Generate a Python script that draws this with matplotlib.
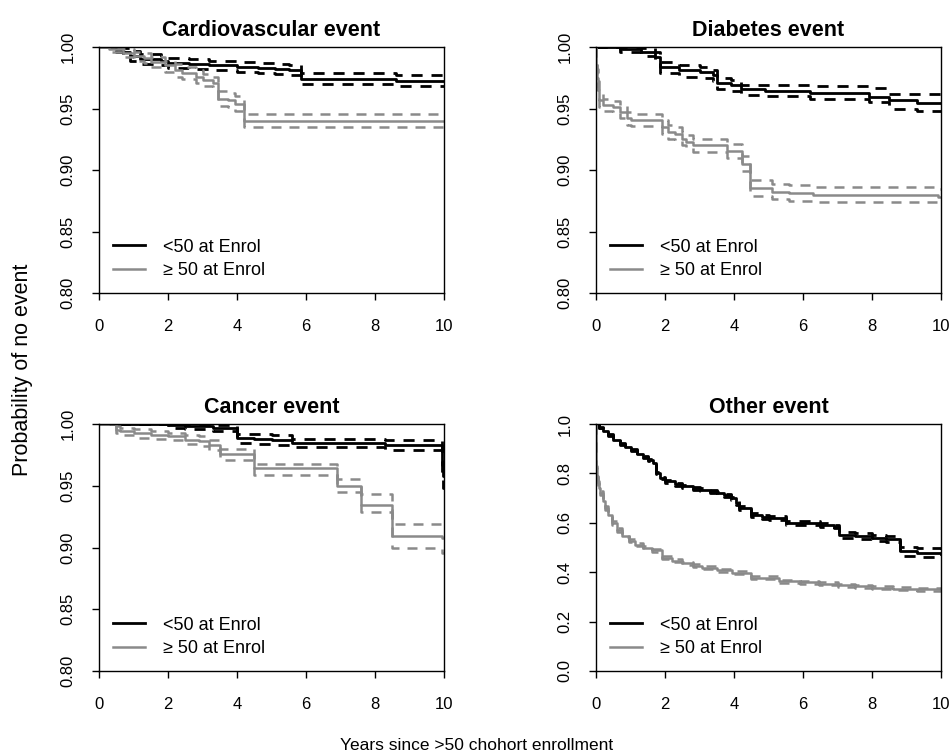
import numpy as np
import matplotlib
matplotlib.use("Agg")
from matplotlib import pyplot as plt

plt.rcParams['font.family'] = ['Liberation Sans', 'DejaVu Sans']

# ---- Cardiovascular event ----
cv_young_t = [0, 0.5, 0.7, 0.9, 1.2, 1.8, 2.0, 2.6, 3.2, 4.0, 4.6, 5.1, 5.5, 5.85, 8.6, 10]
cv_young_s = [1.0, 0.998, 0.996, 0.993, 0.990, 0.989, 0.987, 0.986, 0.985, 0.984, 0.983, 0.982, 0.981, 0.9737, 0.972, 0.972]
cv_young_hi = [1.0, 1.0, 0.999, 0.997, 0.994, 0.993, 0.991, 0.990, 0.989, 0.988, 0.987, 0.986, 0.985, 0.9786, 0.9775, 0.9775]
cv_young_lo = [1.0, 0.996, 0.993, 0.989, 0.986, 0.985, 0.983, 0.982, 0.981, 0.980, 0.979, 0.978, 0.977, 0.970, 0.9683, 0.9683]

cv_old_t = [0, 0.3, 0.7, 1.0, 1.3, 1.5, 1.9, 2.2, 2.4, 2.8, 3.0, 3.3, 3.45, 3.75, 3.95, 4.2, 10]
cv_old_s = [1.0, 0.998, 0.995, 0.993, 0.991, 0.988, 0.985, 0.981, 0.979, 0.976, 0.973, 0.971, 0.958, 0.957, 0.954, 0.940, 0.940]
cv_old_hi = [1.0, 1.0, 0.998, 0.996, 0.995, 0.992, 0.989, 0.986, 0.984, 0.981, 0.978, 0.976, 0.964, 0.963, 0.960, 0.9455, 0.9455]
cv_old_lo = [1.0, 0.996, 0.992, 0.989, 0.987, 0.984, 0.980, 0.976, 0.974, 0.971, 0.968, 0.966, 0.952, 0.951, 0.948, 0.9347, 0.9347]

# ---- Diabetes event ----
db_young_t = [0, 0.7, 1.3, 1.7, 1.85, 2.4, 3.0, 3.4, 3.5, 3.9, 4.2, 4.9, 6.2, 7.9, 8.5, 9.3, 10]
db_young_s = [1.0, 0.998, 0.996, 0.992, 0.984, 0.981, 0.980, 0.977, 0.9705, 0.969, 0.9655, 0.9645, 0.9625, 0.9595, 0.957, 0.9548, 0.9548]
db_young_hi = [1.0, 1.0, 0.999, 0.996, 0.988, 0.985, 0.984, 0.981, 0.975, 0.9735, 0.969, 0.969, 0.968, 0.967, 0.962, 0.9615, 0.9615]
db_young_lo = [1.0, 0.996, 0.993, 0.988, 0.979, 0.976, 0.975, 0.972, 0.966, 0.964, 0.961, 0.960, 0.958, 0.9555, 0.950, 0.948, 0.948]

db_old_t = [0, 0.01, 0.03, 0.06, 0.1, 0.2, 0.5, 0.7, 0.9, 1.0, 1.9, 2.1, 2.3, 2.5, 2.6, 2.8, 3.8, 4.22, 4.46, 5.1, 5.6, 6.3, 9.9, 10]
db_old_s = [1.0, 0.985, 0.975, 0.965, 0.957, 0.953, 0.9515, 0.9475, 0.942, 0.9405, 0.935, 0.931, 0.9295, 0.9255, 0.923, 0.920, 0.9155, 0.905, 0.885, 0.8825, 0.881, 0.880, 0.878, 0.878]
db_old_hi = [1.0, 0.990, 0.982, 0.972, 0.963, 0.958, 0.956, 0.9525, 0.9475, 0.9455, 0.9405, 0.9365, 0.935, 0.931, 0.9285, 0.9255, 0.921, 0.911, 0.8915, 0.889, 0.8875, 0.8865, 0.8845, 0.8845]
db_old_lo = [1.0, 0.980, 0.968, 0.958, 0.951, 0.948, 0.947, 0.9425, 0.9365, 0.9355, 0.9295, 0.9255, 0.924, 0.920, 0.9175, 0.9145, 0.910, 0.899, 0.879, 0.8765, 0.875, 0.874, 0.8715, 0.8715]

# ---- Cancer event ----
ca_young_t = [0, 2.0, 2.5, 3.3, 4.0, 4.5, 5.0, 5.6, 8.3, 9.95, 9.98, 10]
ca_young_s = [1.0, 0.999, 0.998, 0.997, 0.9887, 0.988, 0.9873, 0.9846, 0.9833, 0.967, 0.958, 0.958]
ca_young_hi = [1.0, 1.0, 1.0, 0.999, 0.992, 0.9915, 0.991, 0.988, 0.987, 0.975, 0.968, 0.968]
ca_young_lo = [1.0, 0.997, 0.996, 0.994, 0.985, 0.984, 0.983, 0.981, 0.979, 0.958, 0.948, 0.948]

ca_old_t = [0, 0.5, 0.6, 1.0, 1.5, 2.0, 2.5, 2.9, 3.2, 3.5, 4.5, 6.9, 7.6, 8.5, 9.95, 10]
ca_old_s = [1.0, 0.9955, 0.994, 0.9927, 0.991, 0.990, 0.9873, 0.986, 0.983, 0.9757, 0.9644, 0.9495, 0.9347, 0.909, 0.9077, 0.9077]
ca_old_hi = [1.0, 0.998, 0.997, 0.996, 0.994, 0.993, 0.991, 0.990, 0.987, 0.980, 0.9676, 0.9555, 0.943, 0.919, 0.917, 0.917]
ca_old_lo = [1.0, 0.993, 0.991, 0.989, 0.988, 0.987, 0.984, 0.982, 0.979, 0.971, 0.959, 0.945, 0.9285, 0.8996, 0.8955, 0.8955]

# ---- Other event ----
ot_young_t = [0, 0.1, 0.2, 0.35, 0.5, 0.7, 0.85, 1.0, 1.2, 1.35, 1.5, 1.65, 1.75, 1.85, 2.0, 2.3, 2.5, 2.8, 3.0, 3.3,
              3.5, 3.7, 3.9, 4.05, 4.15, 4.5, 4.8, 5.0, 5.5, 5.8, 6.5, 6.9, 7.05, 7.5, 8.0, 8.4, 8.8, 9.3, 10]
ot_young_s = [1.0, 0.985, 0.970, 0.955, 0.937, 0.920, 0.908, 0.896, 0.880, 0.868, 0.856, 0.842, 0.800, 0.781, 0.768, 0.757, 0.748, 0.740, 0.734, 0.727,
              0.720, 0.712, 0.700, 0.680, 0.660, 0.630, 0.625, 0.620, 0.600, 0.598, 0.593, 0.585, 0.550, 0.545, 0.540, 0.535, 0.485, 0.478, 0.474]
ot_young_hi = [1.0, 0.988, 0.974, 0.959, 0.941, 0.924, 0.912, 0.900, 0.884, 0.872, 0.860, 0.846, 0.804, 0.785, 0.773, 0.763, 0.754, 0.746, 0.740, 0.733,
               0.726, 0.718, 0.706, 0.688, 0.668, 0.638, 0.633, 0.628, 0.608, 0.606, 0.601, 0.593, 0.562, 0.557, 0.552, 0.547, 0.503, 0.496, 0.492]
ot_young_lo = [1.0, 0.982, 0.966, 0.951, 0.933, 0.916, 0.904, 0.892, 0.876, 0.864, 0.852, 0.838, 0.796, 0.777, 0.763, 0.751, 0.742, 0.734, 0.728, 0.721,
               0.714, 0.706, 0.694, 0.672, 0.652, 0.622, 0.617, 0.612, 0.592, 0.590, 0.585, 0.577, 0.538, 0.533, 0.528, 0.523, 0.467, 0.460, 0.456]

ot_old_t = [0, 0.01, 0.03, 0.06, 0.1, 0.13, 0.2, 0.27, 0.35, 0.46, 0.6, 0.75, 0.95, 1.14, 1.35, 1.62, 1.9, 2.2, 2.5, 2.8,
            3.07, 3.5, 3.94, 4.5, 5.3, 5.9, 6.45, 7.0, 7.5, 8.0, 8.6, 9.3, 10]
ot_old_s = [1.0, 0.82, 0.79, 0.76, 0.74, 0.72, 0.69, 0.66, 0.63, 0.60, 0.57, 0.548, 0.528, 0.512, 0.50, 0.488, 0.458, 0.447, 0.437, 0.427,
            0.418, 0.408, 0.398, 0.378, 0.364, 0.359, 0.354, 0.348, 0.343, 0.338, 0.334, 0.331, 0.331]
ot_old_hi = [1.0, 0.83, 0.80, 0.77, 0.749, 0.729, 0.698, 0.668, 0.638, 0.607, 0.577, 0.555, 0.535, 0.518, 0.506, 0.494, 0.464, 0.453, 0.443, 0.433,
             0.424, 0.414, 0.404, 0.384, 0.370, 0.365, 0.360, 0.354, 0.349, 0.344, 0.340, 0.337, 0.337]
ot_old_lo = [1.0, 0.81, 0.78, 0.75, 0.731, 0.711, 0.682, 0.652, 0.622, 0.593, 0.563, 0.541, 0.521, 0.506, 0.494, 0.482, 0.452, 0.441, 0.431, 0.421,
             0.412, 0.402, 0.392, 0.372, 0.358, 0.353, 0.348, 0.342, 0.337, 0.332, 0.328, 0.325, 0.325]

titles = ["Cardiovascular event", "Diabetes event", "Cancer event", "Other event"]
group_labels = ["<50 at Enrol", "\u2265 50 at Enrol"]
x_ticks = [0, 2, 4, 6, 8, 10]
small_ticks = [0.80, 0.85, 0.90, 0.95, 1.00]
small_ticklabels = ["0.80", "0.85", "0.90", "0.95", "1.00"]
big_ticks = [0.0, 0.2, 0.4, 0.6, 0.8, 1.0]
big_ticklabels = ["0.0", "0.2", "0.4", "0.6", "0.8", "1.0"]

GRAY = '#8a8a8a'
DASH = (4.0, 3.2)

W, H = 951, 756
# panel boxes in pixels: left, top, right, bottom
boxes = [(99, 47, 444, 293), (596, 47, 941, 293),
         (99, 424, 444, 671), (596, 424, 941, 671)]

panels = [
    ((cv_young_t, cv_young_s, cv_young_lo, cv_young_hi), (cv_old_t, cv_old_s, cv_old_lo, cv_old_hi), small_ticks, small_ticklabels),
    ((db_young_t, db_young_s, db_young_lo, db_young_hi), (db_old_t, db_old_s, db_old_lo, db_old_hi), small_ticks, small_ticklabels),
    ((ca_young_t, ca_young_s, ca_young_lo, ca_young_hi), (ca_old_t, ca_old_s, ca_old_lo, ca_old_hi), small_ticks, small_ticklabels),
    ((ot_young_t, ot_young_s, ot_young_lo, ot_young_hi), (ot_old_t, ot_old_s, ot_old_lo, ot_old_hi), big_ticks, big_ticklabels),
]


def draw_km(ax, curve, color, lw, label):
    t, s, lo, hi = curve
    ax.step(t, s, where='post', color=color, lw=lw, label=label)
    for band in (lo, hi):
        ax.step(t, band, where='post', color=color, lw=lw, dashes=DASH)


fig = plt.figure(figsize=(W / 100, H / 100), dpi=100)

for k, (young, old, yt, ytl) in enumerate(panels):
    l, t, r, b = boxes[k]
    ax = fig.add_axes([l / W, 1 - b / H, (r - l) / W, (b - t) / H])

    draw_km(ax, young, 'black', 2.0, group_labels[0])
    draw_km(ax, old, GRAY, 1.8, group_labels[1])

    ax.set_xlim(0, 10)
    ax.set_ylim(yt[0], yt[-1])
    ax.set_xticks(x_ticks)
    ax.set_yticks(yt)
    ax.set_yticklabels(ytl, rotation=90, va='center')
    ax.tick_params(direction='out', length=5, width=1, labelsize=12, colors='black')
    ax.tick_params(axis='x', pad=14)
    ax.tick_params(axis='y', pad=12)
    for sp in ax.spines.values():
        sp.set_linewidth(1)
        sp.set_color('black')
    ax.set_title(titles[k], fontsize=15.5, fontweight='bold', pad=8)

    ax.legend(loc='lower left', bbox_to_anchor=(0.04, 0.055), frameon=False,
              fontsize=13, handlelength=1.8, handletextpad=1.0,
              labelspacing=0.38, borderpad=0, borderaxespad=0)

fig.text(23 / W, 1 - 370 / H, "Probability of no event", rotation=90,
         ha='center', va='center', fontsize=15.5)
fig.text(477 / W, 1 - 746 / H, "Years since >50 chohort enrollment",
         ha='center', va='center', fontsize=12.5)

fig.savefig("out.png", dpi=100)
